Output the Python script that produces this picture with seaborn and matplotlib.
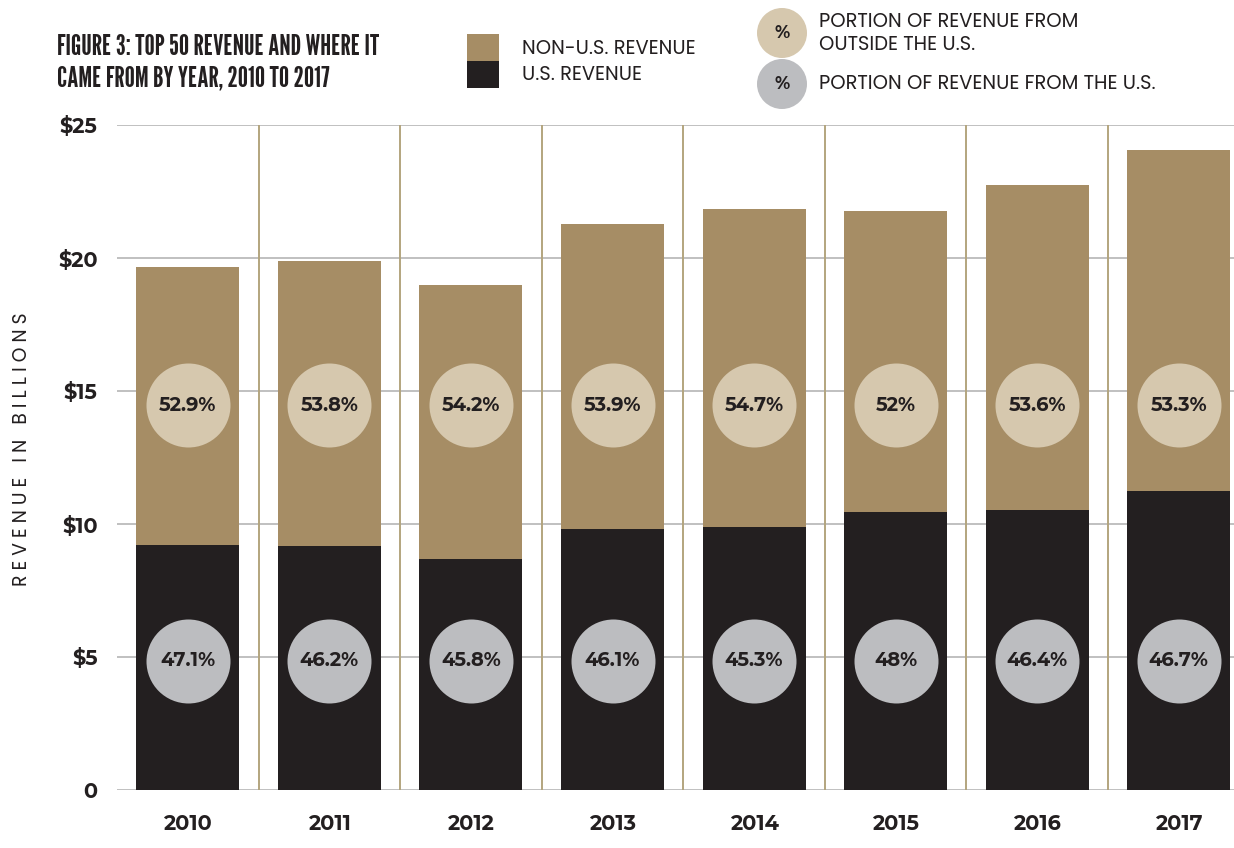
import matplotlib
matplotlib.use("Agg")
import matplotlib.pyplot as plt
import seaborn as sns
import pandas as pd
from matplotlib.patches import Rectangle, Circle

years = ["2010", "2011", "2012", "2013", "2014", "2015", "2016", "2017"]
total_revenue = [19.66, 19.89, 18.98, 21.28, 21.84, 21.77, 22.74, 24.06]
us_revenue = [9.21, 9.17, 8.68, 9.81, 9.89, 10.45, 10.53, 11.24]
pct_outside = ["52.9%", "53.8%", "54.2%", "53.9%", "54.7%", "52%", "53.6%", "53.3%"]
pct_us = ["47.1%", "46.2%", "45.8%", "46.1%", "45.3%", "48%", "46.4%", "46.7%"]
y_ticks = [0, 5, 10, 15, 20, 25]
y_tick_labels = ["0", "$5", "$10", "$15", "$20", "$25"]

C_NONUS = "#A68D65"
C_US = "#231F20"
C_CIRC_OUT = "#D6C8AE"
C_CIRC_US = "#BCBDC0"
C_SEP = "#B3A57E"
C_GRID = "#BBBBBB"
C_TEXT = "#231F20"

sns.set_style("white")
NUM = ["Montserrat Alternates", "Poppins", "DejaVu Sans"]
WORD = ["Poppins", "Open Sans", "DejaVu Sans"]
TITLE = ["League Gothic", "Barlow Condensed", "DejaVu Sans"]
plt.rcParams["font.family"] = WORD

df = pd.DataFrame({"year": years, "total": total_revenue, "us": us_revenue})

fig = plt.figure(figsize=(12.34, 8.48), dpi=100)
ax = fig.add_axes([117 / 1234, 1 - 790 / 848, (1234 - 117) / 1234, (790 - 125) / 848])

sns.barplot(data=df, x="year", y="total", color=C_NONUS, width=0.727,
            saturation=1, ax=ax, zorder=3, linewidth=0, edgecolor="none")
sns.barplot(data=df, x="year", y="us", color=C_US, width=0.727,
            saturation=1, ax=ax, zorder=3, linewidth=0, edgecolor="none")

ax.set_xlim(-0.5, 7.39)
ax.set_ylim(0, 25)
ax.set_yticks(y_ticks)
ax.set_yticklabels(y_tick_labels, fontsize=15, fontweight="bold", color=C_TEXT, family=NUM)
ax.set_xticks(range(len(years)))
ax.set_xticklabels(years, fontsize=15, fontweight="bold", color=C_TEXT, family=NUM)
ax.tick_params(axis="y", length=0, pad=14)
ax.tick_params(axis="x", length=0, pad=17)
ax.set_xlabel("")
ax.set_ylabel("")
for s in ax.spines.values():
    s.set_visible(False)

for yv in y_ticks:
    ax.axhline(yv, color=C_GRID, lw=1.3, zorder=1)
for i in range(len(years) - 1):
    ax.plot([i + 0.5, i + 0.5], [0, 25], color=C_SEP, lw=1.4, zorder=2)

# percentage circles
xs = list(range(len(years)))
circ_s = (84 * 72 / 100) ** 2
ax.scatter(xs, [14.47] * len(xs), s=circ_s, color=C_CIRC_OUT, zorder=4, linewidths=0)
ax.scatter(xs, [4.85] * len(xs), s=circ_s, color=C_CIRC_US, zorder=4, linewidths=0)
for i in xs:
    ax.text(i, 14.47, pct_outside[i], ha="center", va="center", fontsize=14,
            fontweight="bold", color=C_TEXT, zorder=5, family=NUM)
    ax.text(i, 4.85, pct_us[i], ha="center", va="center", fontsize=14,
            fontweight="bold", color=C_TEXT, zorder=5, family=NUM)

# y label
fig.text(22 / 1234, 1 - 449 / 848, "R E V E N U E   I N   B I L L I O N S",
         rotation=90, ha="center", va="center", fontsize=13.5, color=C_TEXT)

# title
fig.text(57 / 1234, 1 - 47 / 848, "FIGURE 3: TOP 50 REVENUE AND WHERE IT",
         ha="left", va="center", fontsize=20.5, color=C_TEXT, family=TITLE)
fig.text(57 / 1234, 1 - 78 / 848, "CAME FROM BY YEAR, 2010 TO 2017",
         ha="left", va="center", fontsize=20.5, color=C_TEXT, family=TITLE)

# legend overlay in pixel coordinates
ov = fig.add_axes([0, 0, 1, 1], zorder=10)
ov.set_xlim(0, 1234)
ov.set_ylim(848, 0)
ov.axis("off")
ov.patch.set_alpha(0)
ov.add_patch(Rectangle((467, 34), 32, 27, color=C_NONUS, lw=0))
ov.add_patch(Rectangle((467, 61), 32, 27, color=C_US, lw=0))
ov.text(522, 49, "NON-U.S. REVENUE", ha="left", va="center", fontsize=14, color=C_TEXT)
ov.text(522, 75, "U.S. REVENUE", ha="left", va="center", fontsize=14, color=C_TEXT)
ov.add_patch(Circle((782, 33), 25, color=C_CIRC_OUT, lw=0))
ov.add_patch(Circle((782, 84), 25, color=C_CIRC_US, lw=0))
ov.text(782, 33, "%", ha="center", va="center", fontsize=12.5, fontweight="bold", color=C_TEXT, family=NUM)
ov.text(782, 84, "%", ha="center", va="center", fontsize=12.5, fontweight="bold", color=C_TEXT, family=NUM)
ov.text(819, 22, "PORTION OF REVENUE FROM", ha="left", va="center", fontsize=14, color=C_TEXT)
ov.text(819, 45, "OUTSIDE THE U.S.", ha="left", va="center", fontsize=14, color=C_TEXT)
ov.text(819, 84, "PORTION OF REVENUE FROM THE U.S.", ha="left", va="center", fontsize=14, color=C_TEXT)

fig.savefig("out.png", dpi=100)
